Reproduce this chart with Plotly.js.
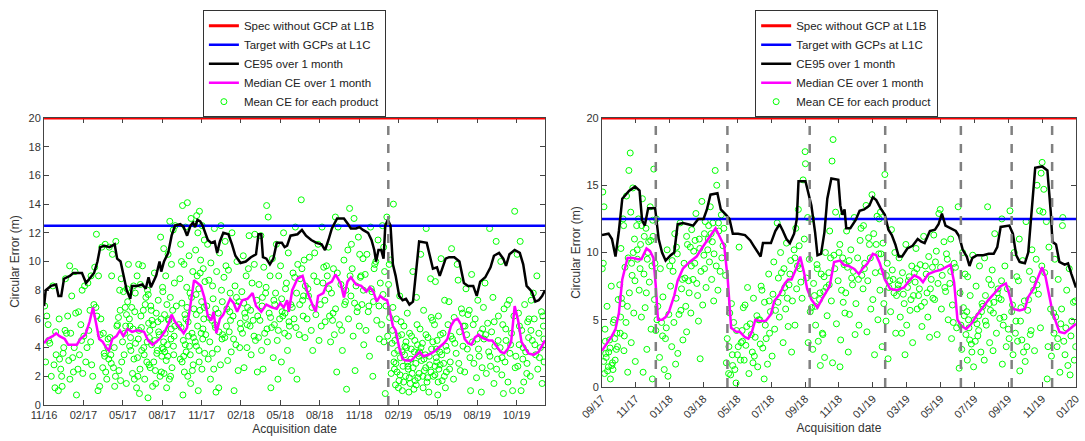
<!DOCTYPE html>
<html>
<head>
<meta charset="utf-8">
<script src="https://cdn.plot.ly/plotly-3.0.1.min.js"></script>
<style>
html,body{margin:0;padding:0;background:#fff;}
#chart{width:1085px;height:441px;}
</style>
</head>
<body>
<div id="chart"></div>
<script>
// ---------- DATA ----------
// x values are months since the first tick of each panel
const leftTickText = ["11/16","02/17","05/17","08/17","11/17","02/18","05/18","08/18","11/18","02/19","05/19","08/19","10/19"];
const leftTickVals = [0,3,6,9,12,15,18,21,24,27,30,33,36];
const rightTickText = ["09/17","11/17","01/18","03/18","05/18","07/18","09/18","11/18","01/19","03/19","05/19","07/19","09/19","11/19","01/20"];
const rightTickVals = [0,2,4,6,8,10,12,14,16,18,20,22,24,26,28];
const leftRange = [0, 38.17];
const rightRange = [0, 28];

const specLevel = 20;      // Spec without GCP at L1B
const targetLevel = 12.5;  // Target with GCPs at L1C

const leftUpdates = [26.23];
const rightUpdates = [3.18, 7.41, 12.27, 16.73, 21.20, 24.20, 26.59];

const ce95Left = [[0,6.9],[0.13,8.0],[0.53,8.3],[0.92,8.4],[1.10,7.6],[1.31,7.6],[1.52,8.8],[1.97,9.0],[2.23,9.2],[2.89,9.2],[3.20,8.5],[3.47,8.8],[3.81,9.2],[4.07,10.0],[4.28,11.0],[4.60,11.1],[4.99,11.0],[5.38,11.2],[5.57,10.2],[5.83,10.0],[6.04,9.0],[6.30,8.0],[6.57,7.4],[6.70,8.3],[7.09,8.3],[7.49,8.4],[7.75,8.1],[7.96,8.9],[8.14,8.2],[8.54,9.0],[8.80,10.0],[8.93,9.3],[9.14,10.0],[9.46,10.6],[9.72,11.8],[9.98,12.5],[10.38,12.6],[10.64,12.4],[10.90,11.8],[11.16,12.5],[11.35,12.7],[11.51,12.4],[11.69,12.9],[11.90,12.8],[12.08,12.5],[12.29,11.9],[12.48,11.5],[12.74,11.3],[13.00,11.4],[13.19,10.6],[13.40,11.4],[13.66,12.0],[14.05,11.9],[14.32,11.2],[14.58,10.4],[14.97,9.9],[15.37,10.0],[15.76,10.3],[16.15,10.5],[16.34,11.9],[16.55,11.9],[16.68,10.3],[16.94,10.2],[17.21,9.8],[17.47,10.2],[17.73,11.3],[18.12,11.3],[18.33,11.0],[18.52,11.1],[18.78,11.8],[19.31,11.9],[19.65,12.2],[19.96,11.8],[20.36,11.5],[20.75,11.3],[21.15,11.2],[21.41,10.8],[21.67,11.5],[21.93,12.3],[22.33,13.0],[22.85,13.0],[23.17,12.6],[23.38,12.3],[23.77,12.3],[24.03,12.4],[24.30,12.2],[24.69,12.0],[24.95,11.5],[25.16,10.8],[25.30,10.0],[25.48,10.8],[25.69,10.8],[25.87,10.2],[26.00,12.5],[26.19,12.9],[26.40,12.5],[26.58,9.8],[26.79,9.0],[27.06,7.6],[27.32,7.3],[27.58,7.4],[27.84,7.0],[28.11,7.2],[28.37,9.5],[28.58,11.4],[29.16,11.3],[29.42,10.3],[29.63,9.5],[29.94,9.6],[30.15,9.0],[30.34,9.5],[30.60,10.2],[30.86,10.3],[31.26,10.3],[31.65,10.0],[31.99,8.5],[32.31,8.3],[32.70,8.3],[32.97,7.6],[33.23,8.6],[33.62,8.9],[34.02,9.6],[34.28,10.4],[34.67,10.6],[34.99,10.2],[35.20,9.7],[35.46,10.5],[35.86,10.8],[36.25,10.6],[36.51,9.8],[36.77,8.3],[37.17,7.9],[37.43,7.2],[37.69,7.3],[37.95,7.6],[38.17,8.0]];

const medianLeft = [[0,4.3],[0.26,4.6],[0.66,4.8],[0.92,5.0],[1.18,4.8],[1.58,4.6],[1.84,4.2],[2.23,4.2],[2.50,4.2],[2.76,4.6],[3.15,4.9],[3.47,5.8],[3.73,6.8],[3.94,5.8],[4.20,4.6],[4.47,4.4],[4.73,4.0],[4.94,3.8],[5.20,4.6],[5.52,4.8],[5.78,5.2],[6.04,4.8],[6.36,5.3],[6.70,5.1],[7.09,5.2],[7.62,5.1],[7.93,4.5],[8.27,4.2],[8.54,4.4],[8.80,4.6],[9.19,5.1],[9.46,5.6],[9.72,6.3],[9.98,5.8],[10.24,5.5],[10.64,5.0],[10.90,5.4],[11.16,7.0],[11.43,8.7],[11.69,8.5],[11.95,8.3],[12.21,7.5],[12.48,6.2],[12.74,5.9],[12.92,6.5],[13.13,5.0],[13.40,6.0],[13.66,6.3],[13.92,6.8],[14.18,7.4],[14.45,7.1],[14.71,6.5],[15.10,7.3],[15.50,7.4],[15.89,7.8],[16.15,6.9],[16.55,6.5],[16.94,7.0],[17.34,6.8],[17.73,6.7],[17.99,7.1],[18.26,6.8],[18.52,7.3],[18.65,6.5],[18.91,8.0],[19.31,8.8],[19.70,9.0],[20.09,7.8],[20.49,6.9],[20.70,6.5],[20.88,7.6],[21.28,7.8],[21.54,8.4],[21.93,8.6],[22.20,9.1],[22.59,8.5],[22.85,7.5],[23.12,8.6],[23.38,8.9],[23.77,8.4],[24.17,8.3],[24.56,7.9],[24.82,8.2],[25.09,7.9],[25.35,7.2],[25.61,7.6],[25.87,7.4],[26.14,7.3],[26.40,6.3],[26.58,5.5],[26.79,5.2],[27.06,4.0],[27.32,3.2],[27.58,3.1],[27.97,3.1],[28.37,3.5],[28.63,3.7],[28.89,3.4],[29.29,3.5],[29.68,3.7],[30.08,4.0],[30.47,4.3],[30.73,4.6],[31.00,5.5],[31.26,5.9],[31.52,6.0],[31.78,5.6],[32.05,4.6],[32.31,4.3],[32.57,4.2],[32.83,4.7],[33.10,4.9],[33.36,4.7],[33.62,4.6],[33.88,4.5],[34.15,4.5],[34.41,4.2],[34.80,3.7],[35.07,3.6],[35.33,3.9],[35.59,4.4],[35.86,6.9],[36.12,5.9],[36.38,4.4],[36.64,4.0],[36.90,3.6],[37.30,3.5],[37.69,3.7],[38.17,4.5]];

const ce95Right = [[0,11.3],[0.39,11.4],[0.59,11.0],[0.80,9.7],[1.00,11.6],[1.20,14.0],[1.61,14.6],[1.96,14.9],[2.22,14.6],[2.37,12.4],[2.53,12.0],[2.73,13.3],[3.14,13.3],[3.35,11.0],[3.55,10.0],[3.76,9.4],[4.06,9.8],[4.27,10.0],[4.47,12.1],[4.78,12.2],[5.08,12.1],[5.39,12.0],[5.69,12.5],[6.00,12.5],[6.20,13.2],[6.41,14.3],[6.82,14.4],[7.02,13.2],[7.33,12.8],[7.53,12.5],[7.73,11.4],[8.04,11.4],[8.45,11.3],[8.76,10.9],[8.96,10.5],[9.16,10.1],[9.37,9.7],[9.51,10.7],[9.98,10.7],[10.24,11.6],[10.49,12.1],[10.69,11.6],[10.90,11.0],[11.10,10.7],[11.35,11.4],[11.51,12.5],[11.61,15.3],[12.02,15.3],[12.18,14.5],[12.37,13.5],[12.59,11.5],[12.73,9.8],[12.94,9.9],[13.14,11.5],[13.31,14.0],[13.55,15.5],[13.96,15.4],[14.08,13.5],[14.20,12.8],[14.33,13.2],[14.43,11.8],[14.67,11.8],[14.98,12.4],[15.22,13.1],[15.49,13.2],[15.80,13.5],[16.00,14.1],[16.20,13.9],[16.45,13.3],[16.71,12.8],[16.92,11.7],[17.12,11.3],[17.33,10.6],[17.53,9.7],[17.73,9.7],[18.04,10.3],[18.35,10.5],[18.65,11.0],[18.86,10.8],[19.06,10.7],[19.37,11.6],[19.67,11.7],[19.88,12.1],[20.08,12.9],[20.29,12.0],[20.59,11.8],[20.90,11.6],[21.10,11.2],[21.31,10.2],[21.55,9.7],[21.71,9.0],[21.88,9.6],[22.16,9.8],[22.53,9.8],[22.84,9.9],[23.14,9.9],[23.35,10.4],[23.55,11.9],[24.06,12.0],[24.27,11.4],[24.47,9.8],[24.67,9.3],[24.98,9.2],[25.18,10.0],[25.43,13.5],[25.59,16.3],[26.00,16.4],[26.31,16.1],[26.51,13.0],[26.61,10.8],[26.82,10.6],[27.02,9.3],[27.33,9.1],[27.53,9.2],[27.73,8.4],[28.00,7.4]];

const medianRight = [[0,2.7],[0.29,3.2],[0.59,3.8],[0.80,4.3],[1.00,5.5],[1.20,8.0],[1.51,9.6],[1.82,9.6],[2.12,9.5],[2.33,9.5],[2.63,10.3],[2.84,10.1],[3.04,9.6],[3.18,7.5],[3.31,5.0],[3.55,5.0],[3.76,5.2],[3.96,5.6],[4.27,6.8],[4.47,7.9],[4.78,8.8],[5.18,9.3],[5.59,9.7],[6.00,10.5],[6.41,11.3],[6.71,11.8],[7.02,11.0],[7.22,10.5],[7.43,8.0],[7.63,4.4],[7.94,4.1],[8.14,4.1],[8.45,3.7],[8.65,3.6],[8.86,4.1],[9.06,5.0],[9.37,4.9],[9.67,4.9],[9.98,5.4],[10.18,6.4],[10.49,6.9],[10.80,7.7],[11.00,8.0],[11.20,8.0],[11.47,8.8],[11.71,9.7],[11.92,8.6],[12.12,7.3],[12.37,6.5],[12.73,5.9],[12.94,6.4],[13.24,7.0],[13.45,7.5],[13.71,9.3],[14.06,9.4],[14.27,9.1],[14.57,9.0],[14.88,8.8],[15.18,8.4],[15.39,8.8],[15.69,9.2],[16.00,9.9],[16.20,9.8],[16.41,9.2],[16.71,8.0],[17.02,7.3],[17.43,7.2],[17.84,7.4],[18.14,7.9],[18.45,8.3],[18.76,8.1],[18.96,7.8],[19.27,8.4],[19.67,8.6],[19.98,8.7],[20.29,8.9],[20.59,9.1],[20.80,7.8],[21.00,5.0],[21.20,4.6],[21.51,4.3],[21.82,4.7],[22.12,5.3],[22.43,5.8],[22.84,6.5],[23.14,6.9],[23.55,7.5],[23.86,7.7],[24.06,6.9],[24.27,5.8],[24.67,5.7],[24.98,5.8],[25.18,6.7],[25.49,7.3],[25.80,8.3],[26.00,8.9],[26.20,8.2],[26.41,6.8],[26.61,5.6],[26.82,4.8],[27.02,4.1],[27.33,4.0],[27.63,4.3],[28.00,4.7]];

const productsLeft = [
[0.55,2.0],[0.12,3.0],[0.05,6.9],[0.31,5.6],[0.67,8.3],[0.83,1.2],[0.92,3.5],[0.44,4.3],[0.21,6.2],[0.76,2.8],
[1.38,1.3],[1.97,1.8],[1.60,5.2],[1.15,6.0],[1.88,3.1],[1.27,2.5],[1.50,4.0],[1.71,5.0],[1.09,1.0],[1.34,2.0],[1.80,6.2],[1.63,8.8],[1.95,9.7],[1.18,3.2],
[2.41,6.4],[2.58,2.5],[2.03,5.0],[2.86,4.5],[2.24,2.3],[2.70,3.5],[2.47,0.7],[2.11,7.6],[2.90,8.0],[2.36,9.3],[2.63,6.5],[2.95,2.2],[2.18,3.3],
[3.27,4.0],[3.50,6.6],[3.71,2.0],[3.09,8.3],[3.34,8.5],[3.80,7.0],[3.63,2.8],[3.18,3.0],[3.95,6.8],[3.58,9.0],[3.41,5.2],[3.99,11.9],[3.86,9.6],[3.03,4.8],
[4.47,2.6],[4.11,1.0],[4.58,3.6],[4.40,11.0],[4.03,6.2],[4.86,4.0],[4.24,1.3],[4.70,2.3],[4.93,3.2],[4.66,11.2],[4.15,9.0],[4.52,5.0],[4.78,1.8],[4.97,11.0],[4.33,6.0],[4.88,4.6],
[5.44,2.0],[5.09,3.5],[5.21,10.5],[5.76,8.0],[5.38,1.3],[5.92,3.0],[5.60,5.6],[5.47,11.4],[5.15,9.0],[5.67,6.1],[5.03,4.7],[5.83,1.7],[5.29,2.6],[5.88,8.8],[5.55,5.5],[5.98,4.4],[5.71,2.4],[5.12,2.9],
[6.31,8.1],[6.05,7.9],[6.62,3.8],[6.88,1.8],[6.18,6.8],[6.43,9.8],[6.95,7.8],[6.55,5.5],[6.27,1.5],[6.74,2.2],[6.10,3.5],[6.82,8.3],[6.37,7.2],[6.68,6.8],[6.91,6.5],[6.50,6.0],[6.22,5.5],[6.78,5.3],[6.14,5.0],[6.59,4.7],[6.97,4.3],
[7.44,3.8],[7.12,3.3],[7.83,3.0],[7.31,2.5],[7.67,1.8],[7.05,1.2],[7.92,0.5],[7.21,9.8],[7.76,7.5],[7.38,6.2],[7.97,5.7],[7.60,4.0],[7.15,2.0],[7.88,8.0],[7.27,0.8],[7.50,9.7],[7.71,7.0],[7.09,9.0],[7.34,8.4],[7.94,7.7],[7.56,6.6],[7.24,5.2],
[8.70,7.3],[8.13,6.9],[8.55,6.4],[8.92,6.0],[8.31,5.6],[8.06,5.2],[8.78,4.9],[8.44,4.5],[8.20,4.2],[8.63,3.8],[8.97,3.4],[8.36,3.0],[8.09,2.6],[8.84,2.0],[8.51,1.5],[8.27,1.3],[8.88,11.7],[8.41,9.2],[8.17,6.6],[8.67,5.8],[8.02,4.7],[8.59,3.6],[8.94,2.3],
[9.58,12.8],[9.84,12.2],[9.12,10.9],[9.45,10.5],[9.71,9.8],[9.27,9.0],[9.93,8.5],[9.05,7.9],[9.62,7.5],[9.36,7.0],[9.80,6.6],[9.18,6.3],[9.51,5.9],[9.96,5.5],[9.23,5.0],[9.67,4.6],[9.40,4.2],[9.08,3.9],[9.88,3.5],[9.31,3.1],[9.75,2.6],[9.14,2.2],[9.55,1.8],[9.99,12.5],[9.03,8.2],[9.47,6.0],[9.91,4.8],[9.20,3.7],[9.64,2.0],[9.34,1.2],
[10.92,14.1],[10.55,13.9],[11.20,13.0],[10.78,12.4],[10.41,11.2],[11.05,10.4],[10.66,9.8],[11.33,9.3],[10.35,8.8],[10.87,8.2],[11.12,7.8],[10.50,7.1],[11.41,6.7],[10.73,6.3],[10.98,5.8],[10.44,5.4],[11.27,5.0],[10.61,4.5],[11.08,4.1],[10.83,3.7],[10.38,3.2],[11.36,2.8],[10.69,2.3],[10.95,2.0],[11.17,1.5],[10.58,0.7],[11.46,12.6],[10.47,10.0],[11.24,7.5],[10.81,6.0],[11.01,4.8],[10.64,3.4],[11.30,2.4],
[11.84,13.5],[11.63,13.2],[12.05,12.5],[11.72,12.0],[12.21,11.5],[11.55,10.8],[11.93,10.1],[12.13,9.5],[11.67,9.0],[12.26,8.6],[11.79,8.1],[11.58,7.7],[12.01,7.2],[11.88,6.6],[12.17,6.0],[11.70,5.5],[11.97,5.0],[12.09,4.6],[11.61,4.1],[12.24,3.6],[11.82,3.0],[12.03,2.5],[11.75,1.0],[11.90,9.2],[12.19,6.8],[11.52,4.4],
[12.98,12.3],[12.46,11.2],[13.37,10.6],[12.71,9.9],[13.15,9.3],[12.56,8.7],[13.52,8.0],[12.88,7.4],[12.40,6.9],[13.27,6.4],[12.79,5.9],[13.06,5.4],[13.60,4.9],[12.63,4.4],[13.21,3.9],[12.51,3.2],[13.44,2.8],[12.93,2.5],[12.68,1.8],[13.31,1.2],[13.10,0.9],[13.48,12.5],[12.84,8.3],[13.02,5.6],[13.56,4.6],
[14.32,12.0],[13.80,11.4],[14.70,10.0],[14.05,9.4],[13.71,8.9],[14.55,8.3],[14.18,7.8],[14.86,7.2],[13.93,6.7],[14.40,6.2],[14.95,5.7],[14.11,5.1],[13.77,4.7],[14.62,4.2],[14.26,3.7],[13.99,3.1],[14.79,2.4],[14.48,1.0],[13.86,9.7],[14.66,7.5],[14.21,5.9],[14.91,4.0],
[15.62,11.8],[15.18,10.4],[16.02,9.8],[15.40,9.0],[15.85,8.5],[15.07,7.9],[16.21,7.3],[15.51,6.8],[15.29,6.4],[15.93,5.9],[15.70,5.5],[15.12,5.0],[16.11,4.5],[15.46,4.0],[15.78,3.5],[15.24,2.6],[16.25,2.3],[16.06,11.9],[15.57,9.5],[15.35,6.1],
[16.96,13.9],[17.08,13.1],[16.52,11.8],[17.40,10.2],[16.74,9.6],[17.22,9.0],[16.38,8.4],[16.88,7.8],[17.51,7.3],[16.61,6.9],[17.15,6.4],[16.45,5.9],[17.33,5.4],[16.81,5.0],[17.02,4.4],[16.57,3.8],[17.46,3.3],[16.69,2.5],[17.28,1.2],[16.92,8.2],[17.55,5.6],[16.34,4.7],
[18.25,12.0],[17.70,11.2],[18.61,10.6],[18.02,9.7],[17.88,9.0],[18.47,8.5],[17.64,7.8],[18.80,7.0],[18.14,6.5],[17.95,6.0],[18.70,5.5],[18.33,5.0],[17.77,4.5],[18.55,3.8],[18.08,3.0],[18.86,2.4],[17.82,1.8],[18.40,8.1],[18.19,6.2],[18.66,5.8],
[19.60,14.3],[19.15,12.4],[19.82,10.1],[19.33,9.8],[18.97,9.2],[19.52,8.8],[19.91,8.3],[19.24,7.8],[19.70,7.3],[19.05,6.0],[19.44,4.9],[19.88,4.7],[19.27,1.8],[19.65,9.5],[19.10,8.9],[19.77,7.6],
[20.88,11.2],[20.22,10.3],[21.31,9.6],[20.55,9.0],[20.10,8.1],[21.05,7.0],[20.71,6.3],[21.42,5.8],[20.36,5.2],[20.95,4.5],[20.47,3.8],[21.18,12.4],[20.62,10.6],[21.25,8.5],[20.04,6.0],
[22.40,12.4],[21.67,11.0],[22.85,10.1],[22.05,9.5],[21.58,9.0],[22.62,8.4],[21.90,7.8],[22.97,7.2],[22.21,6.7],[21.75,6.2],[22.51,5.6],[22.12,4.9],[21.83,4.4],[22.73,3.8],[22.30,2.3],[23.05,1.1],[22.20,13.1],[21.52,9.7],[22.90,7.0],[21.98,5.9],
[23.28,13.7],[23.62,13.0],[23.95,11.7],[23.15,10.8],[24.30,10.2],[23.48,9.5],[24.10,8.9],[23.77,8.3],[23.38,7.6],[24.22,7.0],[23.85,6.5],[23.20,6.0],[24.02,5.5],[23.55,4.8],[24.36,4.2],[23.70,2.4],[23.42,11.2],[24.15,9.0],[23.90,6.8],
[24.88,12.4],[25.45,11.5],[24.60,10.5],[25.20,9.8],[24.47,9.1],[25.62,8.5],[24.98,7.9],[25.10,7.2],[24.70,6.5],[25.35,5.9],[24.53,5.2],[25.55,4.6],[24.80,3.4],[25.05,2.0],[25.28,10.0],[24.93,8.1],
[26.12,13.1],[25.78,12.5],[26.40,10.1],[25.95,9.3],[26.25,8.4],[25.83,7.7],[26.05,6.9],[26.33,6.1],[25.72,5.6],[26.18,4.8],[25.90,4.4],[26.45,2.2],[26.00,0.8],[26.30,9.8],
[26.62,14.0],[27.10,7.6],[26.85,6.0],[27.42,5.5],[26.55,5.2],[27.25,4.9],[26.73,4.5],[27.50,4.1],[26.95,3.8],[27.15,3.3],[26.66,3.0],[27.35,2.7],[26.90,2.3],[27.55,2.0],[27.05,1.7],[26.78,1.4],[27.30,1.0],[26.58,6.8],[27.20,5.8],[27.47,3.5],[26.70,2.5],[27.00,1.2],
[28.10,9.3],[27.68,6.4],[28.42,5.6],[27.85,5.0],[28.25,4.5],[27.62,4.0],[28.52,3.6],[27.95,3.2],[28.33,2.9],[27.75,2.5],[28.05,2.2],[28.48,1.9],[27.90,1.5],[28.18,1.1],[27.80,0.9],[28.38,7.5],[28.00,4.8],[28.57,3.4],[27.72,2.7],[28.28,1.7],
[29.12,12.3],[28.70,10.5],[29.45,8.8],[28.92,6.6],[29.60,5.9],[28.65,5.3],[29.25,4.7],[28.83,4.3],[29.53,3.9],[29.05,3.5],[28.76,3.1],[29.38,2.8],[28.98,2.4],[29.66,2.0],[29.18,1.6],[28.88,1.2],[29.32,0.9],[29.50,6.1],[28.62,3.7],[29.08,2.6],
[30.25,10.2],[29.82,8.6],[30.52,7.3],[30.05,6.2],[29.75,5.6],[30.40,5.0],[29.95,4.5],[30.62,4.1],[30.15,3.7],[29.88,3.3],[30.45,2.9],[30.08,2.5],[29.78,2.1],[30.33,1.7],[30.58,1.2],[30.00,0.7],[30.20,4.9],[29.92,3.0],[30.66,2.3],
[31.05,10.9],[31.55,8.7],[30.85,7.2],[31.80,6.7],[31.25,6.1],[30.78,5.6],[31.66,5.1],[31.12,4.6],[31.92,4.1],[31.40,3.6],[30.95,3.0],[31.72,2.4],[31.20,1.8],[31.48,9.8],[31.88,6.4],[31.00,4.8],
[32.58,9.1],[32.15,8.1],[33.05,7.3],[32.40,6.6],[32.85,6.0],[32.08,5.5],[33.25,5.0],[32.65,4.4],[32.25,3.9],[33.15,3.4],[32.75,2.9],[32.05,2.3],[32.95,1.9],[32.50,1.0],[33.32,0.9],[32.30,6.3],[33.00,4.6],
[33.95,12.3],[34.45,11.4],[33.60,8.5],[34.20,7.5],[33.48,6.8],[34.62,6.2],[33.80,5.7],[34.10,5.1],[33.52,4.6],[34.35,4.1],[33.88,3.7],[34.55,3.2],[34.02,2.7],[33.70,2.2],[34.28,1.5],[33.42,5.3],[34.48,2.5],
[34.80,10.0],[35.45,7.3],[35.05,6.7],[35.80,6.2],[34.95,5.6],[35.62,5.0],[35.20,4.5],[34.75,4.0],[35.50,3.6],[35.12,3.0],[35.90,2.6],[34.88,2.1],[35.35,1.6],[35.70,1.0],[35.00,0.8],[35.86,13.5],[35.30,7.0],
[36.28,11.4],[36.05,10.5],[36.62,7.0],[36.15,6.4],[36.85,5.8],[36.40,5.2],[36.92,4.7],[36.20,4.2],[36.70,3.7],[36.48,3.2],[36.10,2.7],[36.78,2.2],[36.55,1.6],[36.35,1.0],[36.95,6.0],
[37.55,9.0],[37.12,7.3],[37.90,6.5],[37.35,6.0],[38.05,5.5],[37.70,5.0],[37.20,4.5],[37.82,4.0],[37.45,3.5],[38.10,3.0],[37.62,2.5],[37.05,2.0],[37.95,1.5],[37.28,7.8],[38.00,6.2],
[0.35,4.5],[0.88,5.1],[1.45,3.6],[2.30,4.0],[2.80,5.6],[3.55,4.4],[4.28,4.9],[4.62,3.4],[5.35,4.0],[5.80,6.6],
[6.52,4.1],[6.85,3.2],[6.28,6.3],[7.18,4.6],[7.42,5.4],[7.63,3.5],[7.86,4.4],[7.99,2.8],[8.22,5.9],[8.48,2.4],[8.73,5.1],[8.99,4.0],[9.11,4.4],[9.42,3.4],[9.69,5.3],[9.86,4.1],[10.08,6.9],[10.27,5.6],[10.52,3.0],[10.76,4.2],[10.89,6.8],[11.14,3.5],[11.38,4.7],[11.60,6.3],[11.81,3.8],[12.11,5.3],[12.32,4.9],[12.58,6.1],[12.82,3.6],[13.08,6.7],[13.33,5.1],[13.58,7.2],[13.90,5.5],[14.15,6.5],[14.44,4.6],[14.72,6.9],[14.98,5.3],[15.22,7.1],[15.48,5.6],[15.74,6.6],[16.00,4.8],[16.28,6.2],[16.64,7.5],[16.99,5.3],[17.26,6.1],[17.58,7.0],[17.85,5.2],[18.10,7.4],[18.36,6.4],[18.62,4.8],[18.91,6.8],[19.20,5.4],[19.48,7.0],[19.74,6.2],[20.15,7.6],[20.42,6.8],[20.80,8.6],[21.12,5.5],[21.40,7.3],[21.70,8.1],[22.02,6.4],[22.35,9.2],[22.68,5.2],[23.00,8.0],[23.32,9.0],[23.66,7.1],[24.05,10.5],[24.33,8.0],[24.75,6.9],[25.15,9.5],[25.52,6.9],[25.88,11.0],
[26.52,4.3],[26.69,3.6],[26.81,2.9],[26.98,4.8],[27.12,2.1],[27.28,3.7],[27.40,1.6],[27.58,4.4],[27.70,3.0],[27.83,1.9],[27.98,3.9],[28.12,2.6],[28.22,3.7],[28.36,1.4],[28.46,4.2],[28.58,2.2],[28.72,4.0],[28.86,2.0],[28.95,3.2],[29.10,4.9],[29.22,1.9],[29.35,3.4],[29.48,2.3],[29.62,4.4],[29.80,2.7],[29.90,3.9],[30.03,1.6],[30.18,2.8],[30.30,3.5],[30.50,2.0],[30.70,3.8],[30.90,2.5],
[31.30,4.3],[31.60,2.9],[31.95,5.5],[32.20,4.9],[32.45,3.3],[32.70,5.6],[33.10,3.9],[33.38,2.6],[33.65,4.9],[33.98,3.4],[34.30,5.8],[34.60,4.5],[34.90,3.3],[35.18,5.3],[35.55,4.2],[35.95,3.4],[36.22,5.5],[36.50,4.0],[36.80,2.9],[37.10,5.2],[37.40,4.2],[37.75,3.3],[38.08,4.6]
];

const productsRight = [
[0.05,14.5],[0.12,13.4],[0.08,9.2],[0.55,7.5],[0.30,6.0],[0.72,5.0],[0.18,4.3],[0.45,3.5],[0.85,2.8],[0.25,2.2],[0.62,1.8],[0.38,1.5],[0.15,1.0],[0.50,0.6],[0.78,2.0],[0.33,1.2],[0.92,3.0],[0.67,4.8],[0.96,6.5],[0.02,8.8],[0.58,1.6],[0.22,2.5],
[1.67,17.4],[1.59,16.1],[1.82,14.8],[1.45,14.2],[1.70,13.0],[1.28,12.0],[1.92,11.0],[1.12,10.3],[1.55,9.6],[1.36,8.9],[1.78,8.3],[1.05,7.6],[1.62,7.0],[1.20,6.2],[1.88,5.5],[1.42,4.8],[1.08,4.0],[1.73,3.3],[1.30,2.7],[1.97,1.9],[1.52,1.1],[1.25,12.5],[1.85,10.0],[1.15,6.6],
[2.39,14.0],[2.85,13.4],[2.15,12.5],[2.60,11.8],[3.02,11.2],[2.28,10.6],[2.72,10.0],[2.10,9.5],[2.95,9.0],[2.48,8.4],[2.80,7.8],[2.20,7.2],[3.10,6.5],[2.55,5.9],[2.33,5.2],[2.90,4.3],[2.65,2.8],[2.43,1.1],[3.06,16.2],[2.05,12.0],[2.76,10.8],[3.13,9.2],[2.98,0.6],
[3.22,12.5],[3.85,10.2],[3.45,8.8],[4.05,7.5],[3.60,6.7],[3.30,6.0],[3.95,5.4],[3.52,4.8],[3.18,4.2],[3.75,3.6],[4.12,3.0],[3.40,2.2],[3.68,1.3],[3.90,0.8],[4.00,9.0],[3.25,5.0],[3.58,3.8],[3.80,4.4],
[4.62,12.2],[4.30,11.4],[5.05,10.6],[4.45,9.9],[4.85,9.2],[4.20,8.6],[5.12,7.9],[4.70,7.3],[4.38,6.6],[4.95,6.0],[4.55,5.4],[4.25,4.8],[5.00,4.1],[4.78,3.5],[4.48,2.5],[4.35,1.7],[4.90,8.1],[5.15,7.0],[4.66,5.7],
[5.90,13.8],[5.55,12.9],[6.10,12.3],[5.30,11.7],[5.75,11.0],[5.22,10.4],[6.02,9.8],[5.48,9.2],[5.85,8.6],[5.38,8.0],[6.15,7.4],[5.65,6.8],[5.95,6.1],[5.25,5.5],[5.70,4.9],[5.80,2.1],[5.42,10.1],[6.06,8.8],[5.60,7.7],
[6.69,16.1],[6.78,15.0],[6.40,13.4],[7.05,12.8],[6.55,12.2],[6.90,11.6],[6.28,11.0],[7.15,10.5],[6.62,9.9],[6.35,9.3],[6.98,8.6],[6.48,8.0],[6.85,7.2],[6.60,6.4],[7.20,11.8],[6.25,10.2],[6.75,9.0],
[8.10,10.4],[7.30,8.3],[7.55,5.5],[7.95,4.2],[7.40,3.6],[8.05,3.0],[7.70,2.4],[7.35,1.8],[7.85,1.3],[7.60,0.9],[7.92,0.3],[8.18,2.0],[7.48,1.0],[8.22,3.3],[7.78,4.8],[7.65,6.2],
[8.60,7.4],[8.95,6.6],[8.35,5.9],[9.15,5.3],[8.75,4.7],[8.28,4.2],[9.05,3.7],[8.50,3.1],[8.88,2.6],[8.40,2.0],[9.20,1.5],[8.68,1.0],[8.82,3.9],[9.25,5.0],[8.45,6.1],[9.00,2.3],
[9.85,8.4],[9.40,7.5],[10.10,6.9],[9.60,6.3],[9.95,5.6],[9.32,5.0],[10.20,4.3],[9.70,3.6],[9.50,2.9],[10.05,2.3],[9.78,1.7],[9.58,0.6],[9.90,4.0],[10.25,5.7],[9.45,7.2],[10.15,9.3],
[10.35,12.2],[10.90,10.7],[10.55,10.0],[11.15,9.4],[10.75,8.8],[10.42,8.1],[11.05,7.6],[10.65,7.0],[11.25,6.4],[10.85,5.8],[10.48,5.2],[11.00,4.5],[10.70,3.3],[11.20,2.6],[10.95,6.6],[10.60,8.5],
[12.00,17.5],[12.02,16.6],[11.88,15.4],[11.60,13.2],[12.15,12.6],[11.45,11.8],[11.95,11.0],[11.35,10.2],[12.25,9.5],[11.70,8.8],[12.08,8.1],[11.50,7.3],[11.82,6.6],[12.30,5.6],[11.40,4.6],[12.18,3.3],[11.75,7.8],[11.55,9.0],
[12.40,12.5],[13.20,10.0],[12.70,9.1],[12.95,8.4],[12.50,7.7],[13.10,7.1],[12.85,6.5],[12.38,5.9],[13.30,5.3],[12.62,4.6],[13.02,4.0],[12.78,3.4],[12.45,2.8],[13.15,2.2],[12.90,1.6],[12.55,6.8],[13.25,7.4],[12.72,8.8],[13.05,3.9],
[13.65,18.4],[13.59,16.8],[13.80,13.0],[14.20,12.7],[13.45,11.6],[14.05,10.6],[13.70,9.8],[14.30,9.1],[13.40,8.5],[13.95,7.9],[14.15,7.2],[13.55,6.4],[14.35,5.5],[13.85,4.7],[14.10,3.5],[13.62,1.8],[14.06,1.5],[13.50,9.6],[14.25,6.3],
[14.90,12.6],[14.45,11.6],[15.25,10.9],[14.70,10.2],[15.10,9.6],[14.50,8.9],[15.35,8.3],[14.80,7.6],[14.40,7.0],[15.00,6.2],[14.62,5.4],[15.18,4.6],[14.95,3.9],[14.55,2.6],[15.30,11.8],[14.75,8.1],
[15.95,14.3],[15.60,13.5],[16.25,12.7],[15.45,12.0],[16.05,11.4],[15.80,10.6],[16.35,9.9],[15.52,9.2],[16.15,8.5],[15.70,7.9],[15.42,7.3],[16.00,6.5],[15.88,5.8],[16.30,5.0],[15.65,4.1],[16.10,2.4],[15.75,11.1],[16.38,12.5],
[16.71,15.8],[16.45,13.0],[17.10,11.7],[16.60,10.7],[17.30,10.0],[16.85,9.2],[16.50,8.6],[17.20,8.0],[16.95,7.4],[17.40,6.8],[16.65,6.2],[17.05,5.6],[16.78,4.9],[17.35,4.0],[16.55,3.0],[16.90,2.1],[17.15,8.7],[16.42,7.2],
[17.95,10.6],[17.55,9.6],[18.30,9.0],[17.75,8.5],[18.10,7.9],[17.48,7.3],[18.40,6.8],[17.85,6.2],[18.20,5.7],[17.62,5.2],[18.00,4.6],[17.70,4.0],[18.35,3.3],[17.90,2.4],[18.15,8.2],[17.50,7.6],[18.25,6.5],
[19.00,11.2],[18.55,10.3],[19.30,9.7],[18.80,9.1],[19.15,8.4],[18.50,7.8],[19.40,7.3],[18.70,6.8],[19.05,6.3],[18.62,5.8],[19.25,5.2],[18.90,4.5],[19.35,3.7],[18.60,8.8],[19.20,7.0],[18.85,6.0],
[19.98,13.2],[19.90,12.9],[19.60,11.3],[20.20,10.8],[19.75,10.1],[20.40,9.5],[19.52,8.9],[20.10,8.3],[19.85,7.7],[20.30,7.1],[19.65,6.5],[20.05,5.8],[20.45,5.0],[19.80,3.9],[20.25,7.4],[19.55,6.6],
[21.04,13.4],[20.60,11.0],[21.30,10.0],[20.80,9.2],[21.45,8.4],[20.55,7.7],[21.15,7.0],[20.70,6.1],[21.40,5.3],[20.95,4.4],[20.65,3.6],[21.25,2.8],[21.10,1.4],[20.88,8.9],[21.35,5.9],[20.75,4.8],
[21.90,9.8],[22.30,9.0],[21.60,8.2],[22.10,7.5],[21.75,6.8],[22.45,6.2],[21.55,5.6],[22.00,5.0],[21.68,4.4],[22.20,3.8],[21.82,3.2],[22.38,2.6],[21.58,2.0],[21.95,1.5],[22.50,6.0],[22.15,4.7],[21.72,3.5],[22.25,5.3],
[22.78,13.4],[23.20,11.4],[22.60,9.6],[23.05,8.7],[22.85,8.0],[23.40,7.3],[22.65,6.8],[23.15,6.3],[22.95,5.7],[23.50,5.1],[22.70,4.6],[23.30,4.0],[22.90,3.3],[23.10,2.7],[22.58,2.0],[23.45,6.6],[23.00,7.6],
[24.10,13.1],[23.62,12.5],[24.35,10.0],[23.80,9.0],[24.50,8.2],[23.95,7.3],[23.58,6.5],[24.20,5.6],[23.70,4.6],[24.42,4.0],[24.05,3.6],[23.88,3.0],[24.28,2.4],[23.65,1.7],[24.55,3.4],[23.75,5.2],
[25.05,12.3],[24.65,11.0],[25.40,10.2],[24.85,9.4],[25.25,8.6],[24.60,7.9],[25.50,7.2],[24.95,6.4],[25.15,5.7],[24.72,4.9],[25.35,4.2],[24.80,3.5],[25.55,2.7],[25.00,1.9],[24.68,1.2],[25.30,3.9],[25.10,3.0],
[26.00,16.7],[25.94,15.9],[25.70,15.0],[26.10,14.7],[25.85,13.1],[26.25,12.3],[26.40,10.4],[25.65,9.5],[26.15,8.5],[25.78,6.9],[26.50,5.8],[25.90,4.4],[26.35,3.0],[26.55,2.3],[26.30,0.6],[26.05,13.0],
[27.22,12.6],[27.20,12.0],[26.75,9.5],[27.60,8.8],[26.95,8.0],[27.45,7.2],[27.85,6.3],[26.68,5.5],[27.10,4.7],[27.70,3.8],[26.88,3.0],[27.35,2.4],[27.52,1.6],[27.05,1.1],[27.65,0.9],[27.95,6.4],[26.80,5.2],[27.90,2.0],[27.28,3.4],
[0.40,2.6],[0.20,3.4],[0.65,1.3],[0.88,4.0],[0.10,1.9],[0.48,2.9],[0.75,3.6],[1.10,5.2],[1.32,3.8],[1.50,6.0],[1.75,9.2],[1.95,7.9],[2.08,10.2],[2.25,8.8],[2.50,11.2],[2.68,9.5],[2.88,10.9],[3.00,12.4],[2.35,12.0],[2.62,7.0],
[4.15,9.4],[4.40,10.4],[4.75,8.0],[5.00,11.2],[5.28,9.0],[5.50,10.9],[5.78,10.3],[6.05,11.4],[6.30,12.0],[6.52,10.8],[6.88,12.2],[7.08,9.6],[6.45,11.4],
[7.50,3.0],[7.72,1.6],[8.00,2.4],[8.30,3.4],[8.55,4.5],[8.92,1.8],[9.35,3.2],[9.65,4.6],[9.88,6.4],[10.40,6.3],[10.80,7.4],[11.10,8.4],[11.40,9.6],[11.65,10.5],
[12.60,6.0],[12.88,7.0],[13.12,8.2],[13.42,7.6],[13.75,8.8],[14.00,10.0],[14.22,9.6],[14.60,9.4],[14.85,8.6],[15.15,8.0],[15.50,8.8],[15.85,9.6],[16.20,10.6],[16.48,9.9],[16.80,8.3],[17.00,7.9],[17.25,7.0],[17.60,7.9],[17.80,6.9],[18.05,7.4],[18.45,8.5],[18.75,7.3],[19.10,9.0],[19.45,8.0],[19.70,9.3],[20.00,8.9],[20.35,9.9],[20.60,8.6],
[21.20,4.6],[21.50,3.9],[21.65,5.0],[21.85,2.6],[22.05,3.4],[22.25,4.2],[22.42,5.6],[22.65,4.9],[22.88,6.2],[23.12,5.5],[23.35,7.0],[23.60,7.9],[24.00,4.3],[24.25,6.1],[24.45,4.9],[24.75,5.9],[24.90,2.6],[25.20,6.5],[25.45,8.0],[25.70,7.6],[25.98,9.0],
[26.70,4.0],[26.92,3.6],[27.15,5.8],[27.40,4.4],[27.75,4.9],[27.98,3.0]
];

const seriesNames = ["Spec without GCP at L1B","Target with GCPs at L1C","CE95 over 1 month","Median CE over 1 month","Mean CE for each product"];

// ---------- STYLE ----------
const FONT = "Liberation Sans, Arial, Helvetica, sans-serif";
const colors = {spec:"#ff0000", target:"#0000ff", ce95:"#000000", median:"#ff00ff", mean:"#00ff00"};
const xs = a => a.map(p => p[0]);
const ys = a => a.map(p => p[1]);

function panelTraces(prefix, legendId, range, products, ce95, median) {
  const xa = prefix === 1 ? "x" : "x2";
  const ya = prefix === 1 ? "y" : "y2";
  return [
    {type:"scatter", mode:"markers", x:xs(products), y:ys(products), xaxis:xa, yaxis:ya, legend:legendId,
     name:seriesNames[4], legendrank:5, marker:{symbol:"circle-open", size:6, color:colors.mean, line:{width:1, color:colors.mean}}, hoverinfo:"skip"},
    {type:"scatter", mode:"lines", x:range, y:[specLevel, specLevel], xaxis:xa, yaxis:ya, legend:legendId,
     name:seriesNames[0], legendrank:1, line:{color:colors.spec, width:3}},
    {type:"scatter", mode:"lines", x:range, y:[targetLevel, targetLevel], xaxis:xa, yaxis:ya, legend:legendId,
     name:seriesNames[1], legendrank:2, line:{color:colors.target, width:2.5}},
    {type:"scatter", mode:"lines", x:xs(ce95), y:ys(ce95), xaxis:xa, yaxis:ya, legend:legendId,
     name:seriesNames[2], legendrank:3, line:{color:colors.ce95, width:2.5}},
    {type:"scatter", mode:"lines", x:xs(median), y:ys(median), xaxis:xa, yaxis:ya, legend:legendId,
     name:seriesNames[3], legendrank:4, line:{color:colors.median, width:2.5}}
  ];
}

const data = [].concat(
  panelTraces(1, "legend", leftRange, productsLeft, ce95Left, medianLeft),
  panelTraces(2, "legend2", rightRange, productsRight, ce95Right, medianRight)
);

const axisCommon = {
  showgrid:false, zeroline:false, showline:true, linecolor:"#444", linewidth:1,
  ticks:"inside", ticklen:5, tickcolor:"#444", mirror:"ticks",
  tickfont:{family:FONT, size:11, color:"#333"}, layer:"below traces"
};

const shapes = [];
leftUpdates.forEach(v => shapes.push({type:"line", xref:"x", yref:"y domain", x0:v, x1:v, y0:0, y1:1,
  line:{color:"#808080", width:2.5, dash:"dash"}}));
rightUpdates.forEach(v => shapes.push({type:"line", xref:"x2", yref:"y2 domain", x0:v, x1:v, y0:0, y1:1,
  line:{color:"#808080", width:2.5, dash:"dash"}}));

const legendCommon = {
  bgcolor:"#ffffff", bordercolor:"#333", borderwidth:1,
  font:{family:FONT, size:11.5, color:"#222"}, xanchor:"left", yanchor:"top",
  itemwidth:30, tracegroupgap:0, traceorder:"normal"
};

const layout = {
  width:1085, height:441,
  margin:{l:0, r:0, t:0, b:0},
  paper_bgcolor:"#ffffff", plot_bgcolor:"#ffffff",
  font:{family:FONT, size:12, color:"#333"},
  showlegend:true,
  xaxis:Object.assign({}, axisCommon, {domain:[0.0406, 0.5023], range:leftRange, anchor:"y",
    tickmode:"array", tickvals:leftTickVals, ticktext:leftTickText, tickangle:0,
    title:{text:"Acquisition date", font:{family:FONT, size:12, color:"#333"}, standoff:4}}),
  yaxis:Object.assign({}, axisCommon, {domain:[0.0816, 0.7324], range:[0,20], anchor:"x", dtick:2,
    title:{text:"Circular Error (m)", font:{family:FONT, size:12, color:"#333"}, standoff:6}}),
  xaxis2:Object.assign({}, axisCommon, {domain:[0.5548, 0.9917], range:rightRange, anchor:"y2",
    tickmode:"array", tickvals:rightTickVals, ticktext:rightTickText, tickangle:-45,
    title:{text:"Acquisition date", font:{family:FONT, size:12, color:"#333"}, standoff:4}}),
  yaxis2:Object.assign({}, axisCommon, {domain:[0.1224, 0.7324], range:[0,20], anchor:"x2", dtick:5,
    title:{text:"Circular Error (m)", font:{family:FONT, size:12, color:"#333"}, standoff:3}}),
  legend:Object.assign({}, legendCommon, {x:0.187, y:0.977}),
  legend2:Object.assign({}, legendCommon, {x:0.696, y:0.977}),
  shapes:shapes
};

Plotly.newPlot("chart", data, layout, {staticPlot:true, displayModeBar:false});
</script>
</body>
</html>
